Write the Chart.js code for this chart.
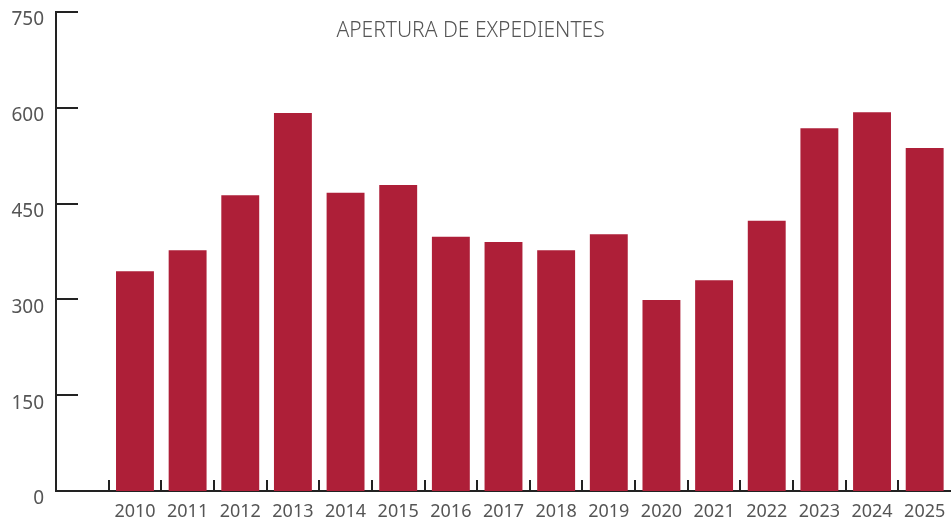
<!DOCTYPE html>
<html>
<head>
<meta charset="utf-8">
<script src="https://cdn.jsdelivr.net/npm/chart.js@4"></script>
<style>
  html, body { margin: 0; padding: 0; background: #fff; }
  #wrap { width: 951px; height: 521px; }
</style>
</head>
<body>
<div id="wrap"><canvas id="expChart"></canvas></div>
<script>
// datos
const years = ["", "2010", "2011", "2012", "2013", "2014", "2015", "2016", "2017",
  "2018", "2019", "2020", "2021", "2022", "2023", "2024", "2025"];
const expedientes = [null, 344, 377, 463, 592, 467, 479, 398, 390,
  377, 402, 299, 330, 423, 568, 593, 537];
const yTicks = [0, 150, 300, 450, 600, 750];
const chartTitle = "APERTURA DE EXPEDIENTES";

const FONT = "'Noto Sans', 'Open Sans', sans-serif";

// marcas de eje hacia dentro + titulo
const innerTicks = {
  id: "innerTicks",
  afterDraw(chart) {
    const ctx = chart.ctx;
    const x = chart.scales.x, y = chart.scales.y;
    const area = chart.chartArea;
    ctx.save();
    ctx.strokeStyle = "#222";
    ctx.lineWidth = 2;
    ctx.beginPath();
    // ticks del eje y
    yTicks.forEach(v => {
      const py = Math.round(y.getPixelForValue(v));
      ctx.moveTo(area.left, py);
      ctx.lineTo(area.left + 22, py);
    });
    // ticks del eje x (entre categorias)
    const half = (x.getPixelForValue(1) - x.getPixelForValue(0)) / 2;
    for (let i = 1; i < years.length; i++) {
      const px = Math.round(x.getPixelForValue(i) - half);
      ctx.moveTo(px, area.bottom);
      ctx.lineTo(px, area.bottom - 11);
    }
    ctx.stroke();
    // titulo
    ctx.fillStyle = "#555";
    ctx.font = "300 21px " + FONT;
    ctx.textAlign = "center";
    ctx.textBaseline = "middle";
    ctx.fillText(chartTitle, chart.width / 2 - 5, 31);
    ctx.restore();
  }
};

new Chart(document.getElementById("expChart"), {
  type: "bar",
  data: {
    labels: years,
    datasets: [{
      data: expedientes,
      backgroundColor: "#ae1f38",
      barPercentage: 0.72,
      categoryPercentage: 1
    }]
  },
  options: {
    responsive: true,
    maintainAspectRatio: false,
    animation: false,
    layout: { padding: 0 },
    plugins: {
      legend: { display: false },
      title: { display: false },
      tooltip: { enabled: false }
    },
    scales: {
      x: {
        grid: { display: false },
        border: { color: "#222", width: 2 },
        ticks: {
          color: "#555",
          font: { family: FONT, size: 18, weight: 400 },
          padding: 2,
          maxRotation: 0,
          autoSkip: false
        },
        afterFit(scale) { scale.height = 30; }
      },
      y: {
        min: 0,
        max: 750,
        grid: { display: false },
        border: { color: "#222", width: 2 },
        afterBuildTicks(scale) { scale.ticks = yTicks.map(v => ({ value: v })); },
        ticks: {
          color: "#555",
          font: { family: FONT, size: 19, weight: 400 },
          padding: 4,
          labelOffset: 8
        },
        afterFit(scale) {
          scale.width = 56;
          scale.paddingTop = 12;
          scale.paddingBottom = 0;
        }
      }
    }
  },
  plugins: [innerTicks]
});
</script>
</body>
</html>
